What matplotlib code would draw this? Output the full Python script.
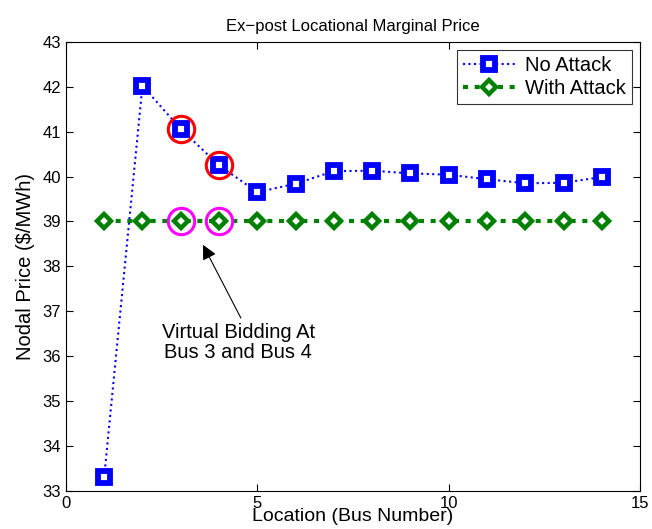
import matplotlib.pyplot as plt

plt.rcParams['font.family'] = ['Liberation Sans', 'DejaVu Sans']

buses = list(range(1, 15))
no_attack = [33.3, 42.02, 41.06, 40.25, 39.65, 39.84, 40.12, 40.13, 40.07, 40.04, 39.94, 39.85, 39.86, 39.99]
with_attack = [39.0] * 14
attacked = [3, 4]

fig = plt.figure(figsize=(6.52, 5.29), dpi=100)
ax = fig.add_axes([0.101, 0.072, 0.881, 0.849])

ax.plot(buses, no_attack, color='blue', linestyle=':', linewidth=1.5,
        marker='s', markersize=8, markerfacecolor='white',
        markeredgecolor='blue', markeredgewidth=4.2, label='No Attack')
ax.plot(buses, with_attack, color='green', linestyle=(0, (1.2, 1.6)), linewidth=3,
        marker='D', markersize=7.5, markerfacecolor='white',
        markeredgecolor='green', markeredgewidth=3.2, label='With Attack')

# highlight the buses where virtual bids were placed
for b in attacked:
    ax.plot(b, no_attack[b - 1], marker='o', markersize=19, markerfacecolor='none',
            markeredgecolor='red', markeredgewidth=2.2)
    ax.plot(b, with_attack[b - 1], marker='o', markersize=19, markerfacecolor='none',
            markeredgecolor='magenta', markeredgewidth=2.2)

ax.text(4.5, 36.3, 'Virtual Bidding At\nBus 3 and Bus 4', ha='center', va='center',
        fontsize=14.5, linespacing=1.05)
ax.annotate('', xy=(3.58, 38.48), xytext=(4.57, 36.85),
            arrowprops=dict(arrowstyle='-|>', color='black', lw=0.8,
                            mutation_scale=22, shrinkA=0, shrinkB=0))

ax.set_xlim(0, 15)
ax.set_ylim(33, 43)
ax.set_xticks([0, 5, 10, 15])
ax.set_yticks(range(33, 44))
ax.tick_params(direction='in', top=True, right=True, labelsize=12, length=5)
ax.set_title('Ex\u2212post Locational Marginal Price', fontsize=12, pad=8)
ax.set_xlabel('Location (Bus Number)', fontsize=14, labelpad=-2)
ax.set_ylabel('Nodal Price ($/MWh)', fontsize=14.5, labelpad=5)

leg = ax.legend(loc='upper right', fontsize=14.5, fancybox=False, edgecolor='black',
                handlelength=2.6, borderaxespad=0.4, borderpad=0.3, labelspacing=0.2,
                handletextpad=0.5)
leg.get_frame().set_linewidth(0.8)

fig.savefig('out.png', dpi=100)
